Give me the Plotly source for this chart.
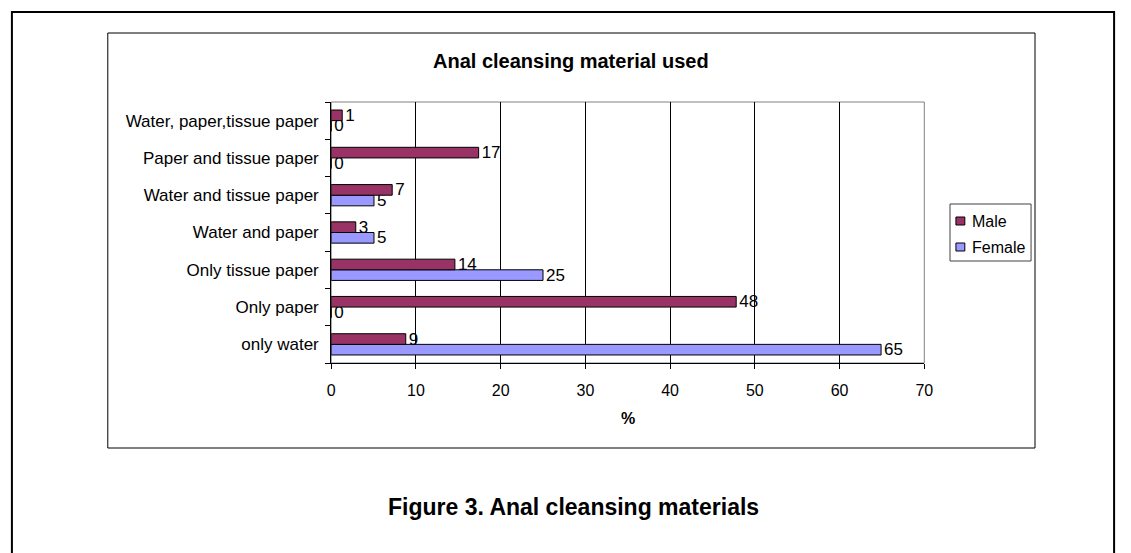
import plotly.graph_objects as go

W, H = 1131, 553

categories = ["only water", "Only paper", "Only tissue paper", "Water and paper",
              "Water and tissue paper", "Paper and tissue paper", "Water, paper,tissue paper"]
male_pct = [8.8, 47.8, 14.6, 2.9, 7.2, 17.4, 1.3]
female_pct = [64.9, 0, 25.0, 5.05, 5.05, 0, 0]
male_labels = ["9", "48", "14", "3", "7", "17", "1"]
female_labels = ["65", "0", "25", "5", "5", "0", "0"]
x_ticks = [0, 10, 20, 30, 40, 50, 60, 70]
series_names = ["Male", "Female"]
series_colors = ["#993366", "#9999FF"]

FONT = "Liberation Sans, Arial, sans-serif"


def px(x):
    return x / W


def py(y):
    return 1 - y / H


fig = go.Figure()
fig.add_trace(go.Bar(
    y=categories, x=female_pct, orientation="h", name=series_names[1],
    marker=dict(color=series_colors[1], line=dict(color="black", width=1)),
    text=female_labels, textposition="outside", cliponaxis=False, constraintext="none",
    textfont=dict(family=FONT, size=17, color="black"), showlegend=False,
))
fig.add_trace(go.Bar(
    y=categories, x=male_pct, orientation="h", name=series_names[0],
    marker=dict(color=series_colors[0], line=dict(color="black", width=1)),
    text=male_labels, textposition="outside", cliponaxis=False, constraintext="none",
    textfont=dict(family=FONT, size=17, color="black"), showlegend=False,
))

shapes = [
    # outer page border
    dict(type="rect", xref="paper", yref="paper", x0=px(8), x1=px(1123), y0=py(12), y1=py(600),
         line=dict(color="black", width=2), fillcolor="rgba(0,0,0,0)", layer="below"),
    # chart frame
    dict(type="rect", xref="paper", yref="paper", x0=px(105), x1=px(1043), y0=py(33), y1=py(448),
         line=dict(color="black", width=1), fillcolor="rgba(0,0,0,0)", layer="below"),
    # plot area border (grey)
    dict(type="rect", xref="paper", yref="paper", x0=px(331), x1=px(931), y0=py(102), y1=py(363),
         line=dict(color="#808080", width=1), fillcolor="rgba(0,0,0,0)", layer="below"),
    # legend box
    dict(type="rect", xref="paper", yref="paper", x0=px(957), x1=px(1039), y0=py(204), y1=py(261),
         line=dict(color="#404040", width=1), fillcolor="white"),
]

annotations = [
    dict(text="<b>Anal cleansing material used</b>", xref="paper", yref="paper",
         x=px(574), y=py(61), showarrow=False, font=dict(family=FONT, size=20, color="black"),
         xanchor="center", yanchor="middle"),
    dict(text="<b>%</b>", xref="paper", yref="paper",
         x=px(631), y=py(418), showarrow=False, font=dict(family=FONT, size=16, color="black"),
         xanchor="center", yanchor="middle"),
    dict(text="<b>Figure 3. Anal cleansing materials</b>", xref="paper", yref="paper",
         x=px(576), y=py(507), showarrow=False, font=dict(family=FONT, size=23, color="black"),
         xanchor="center", yanchor="middle"),
]

# legend entries (custom, to match the compact legend box)
for i, (name, col) in enumerate(zip(series_names, series_colors)):
    cy = 221 + i * 26
    shapes.append(dict(type="rect", xref="paper", yref="paper",
                       x0=px(963), x1=px(972), y0=py(cy - 4), y1=py(cy + 4),
                       line=dict(color="black", width=1), fillcolor=col))
    annotations.append(dict(text=name, xref="paper", yref="paper", x=px(977), y=py(cy),
                            showarrow=False, xanchor="left", yanchor="middle",
                            font=dict(family=FONT, size=16, color="black")))

fig.update_layout(
    width=W, height=H,
    margin=dict(l=0, r=0, t=0, b=0),
    paper_bgcolor="white", plot_bgcolor="white",
    barmode="group", bargap=0.43, bargroupgap=0,
    font=dict(family=FONT, size=17, color="black"),
    showlegend=False,
    shapes=shapes, annotations=annotations,
    xaxis=dict(domain=[px(331), px(931)], range=[0, 70], tickvals=x_ticks,
               showgrid=True, gridcolor="black", gridwidth=1,
               showline=True, linecolor="black", linewidth=1,
               ticks="outside", ticklen=5, tickcolor="black",
               tickfont=dict(family=FONT, size=16, color="black"), zeroline=False,
               ticklabelstandoff=8),
    yaxis=dict(domain=[py(363), py(102)], type="category",
               showgrid=False, showline=True, linecolor="black", linewidth=1,
               ticks="outside", ticklen=5, tickcolor="black", tickson="boundaries",
               tickfont=dict(family=FONT, size=17, color="black"), ticklabelstandoff=8),
)

post = (
    "var s=document.documentElement.style;s.margin='0';s.padding='0';s.overflow='hidden';"
    "var b=document.body.style;b.margin='0';b.padding='0';b.overflow='hidden';"
    "var gd=document.getElementById('{plot_id}');"
    "Plotly.relayout(gd,{width:window.innerWidth,height:window.innerHeight});"
)

fig.write_html("out.html", config={"displayModeBar": False}, post_script=post)
